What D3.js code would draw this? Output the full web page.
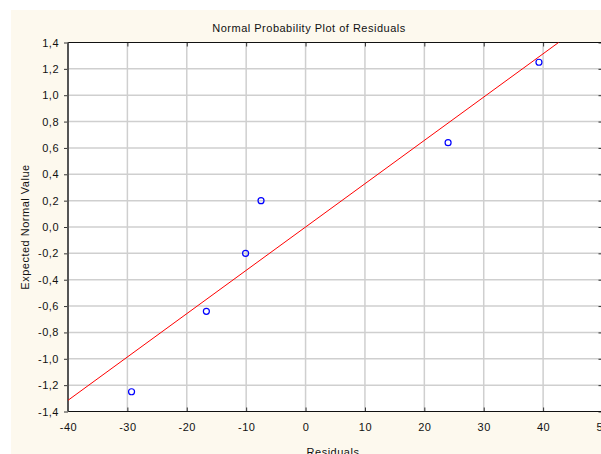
<!DOCTYPE html>
<html>
<head>
<meta charset="utf-8">
<script src="https://cdn.jsdelivr.net/npm/d3@7"></script>
<style>
  body { margin: 0; background: #fff; }
  text { font-family: "Liberation Sans", Arial, sans-serif; fill: #111; letter-spacing: 0.5px; }
</style>
</head>
<body>
<div id="chart"></div>
<script>
// residuals vs expected normal values
const residuals = [-29.3, -16.7, -10.1, -7.5, 24.0, 39.3];
const expected = [-1.25, -0.64, -0.20, 0.20, 0.64, 1.25];
// fitted line end points (clipped at the plot edge)
const lineX = [-40, 42.6];
const lineY = [-1.315, 1.4];
const xTicks = [-40, -30, -20, -10, 0, 10, 20, 30, 40, 50];
const yTicks = [-1.4, -1.2, -1.0, -0.8, -0.6, -0.4, -0.2, 0.0, 0.2, 0.4, 0.6, 0.8, 1.0, 1.2, 1.4];

let w = 601, h = 454;
let pLeft = 68, pRight = 602.5, pTop = 42.5, pBottom = 411.5;

// comma decimals and plain hyphen minus, like the original
let locale = d3.formatLocale({decimal: ",", thousands: ".", grouping: [3], currency: ["", ""], minus: "-"});
let fmtY = locale.format(".1f");
let fmtX = locale.format("d");

let svg = d3.select("#chart")
    .append("svg")
    .attr("width", w)
    .attr("height", h);

svg.append("rect")
    .attr("x", 11).attr("y", 10)
    .attr("width", w).attr("height", h)
    .attr("fill", "#fdf9ee");

let x = d3.scaleLinear().domain([-40, 50]).range([pLeft, pRight]);
let y = d3.scaleLinear().domain([-1.4, 1.4]).range([pBottom, pTop]);

svg.append("rect")
    .attr("x", pLeft).attr("y", pTop)
    .attr("width", pRight - pLeft).attr("height", pBottom - pTop)
    .attr("fill", "#fff");

// grid
svg.append("g")
    .selectAll("line")
    .data(xTicks.slice(1, -1))
    .enter()
    .append("line")
    .attr("x1", d => x(d)).attr("x2", d => x(d))
    .attr("y1", pTop).attr("y2", pBottom)
    .attr("stroke", "#cfcfcf").attr("stroke-width", 1.5);

svg.append("g")
    .selectAll("line")
    .data(yTicks.slice(1, -1))
    .enter()
    .append("line")
    .attr("x1", pLeft).attr("x2", pRight)
    .attr("y1", d => y(d)).attr("y2", d => y(d))
    .attr("stroke", "#cfcfcf").attr("stroke-width", 1.5);

// axes
let xAxis = d3.axisBottom(x).tickValues(xTicks).tickSize(-4).tickPadding(12).tickFormat(fmtX);
let gx = svg.append("g")
    .attr("transform", "translate(0," + pBottom + ")")
    .call(xAxis);
gx.select(".domain").remove();
gx.selectAll("text").style("font-size", "11px").attr("fill", "#111");
gx.selectAll("line").attr("stroke", "#333");

let gxTop = svg.append("g")
    .attr("transform", "translate(0," + pTop + ")")
    .call(d3.axisTop(x).tickValues(xTicks).tickSize(-4).tickFormat(""));
gxTop.select(".domain").remove();
gxTop.selectAll("line").attr("stroke", "#333");

let yAxis = d3.axisLeft(y).tickValues(yTicks).tickSize(4).tickPadding(5).tickFormat(fmtY);
let gy = svg.append("g")
    .attr("transform", "translate(" + pLeft + ",0)")
    .call(yAxis);
gy.select(".domain").remove();
gy.selectAll("text").style("font-size", "11px").attr("fill", "#111");
gy.selectAll("line").attr("stroke", "#333");

let gyRight = svg.append("g")
    .attr("transform", "translate(" + pRight + ",0)")
    .call(d3.axisRight(y).tickValues(yTicks).tickSize(-4).tickFormat(""));
gyRight.select(".domain").remove();
gyRight.selectAll("line").attr("stroke", "#333");

// frame
svg.append("line").attr("x1", pLeft).attr("x2", pRight).attr("y1", pTop).attr("y2", pTop)
    .attr("stroke", "#111").attr("stroke-width", 1.2);
svg.append("line").attr("x1", pLeft).attr("x2", pRight).attr("y1", pBottom).attr("y2", pBottom)
    .attr("stroke", "#111").attr("stroke-width", 1.2);
svg.append("line").attr("x1", pLeft).attr("x2", pLeft).attr("y1", pTop).attr("y2", pBottom)
    .attr("stroke", "#555").attr("stroke-width", 2);

// fitted line
svg.append("line")
    .attr("x1", x(lineX[0])).attr("y1", y(lineY[0]))
    .attr("x2", x(lineX[1])).attr("y2", y(lineY[1]))
    .attr("stroke", "#ff0000").attr("stroke-width", 1);

// points
svg.selectAll("circle.pt")
    .data(residuals)
    .enter()
    .append("circle")
    .attr("class", "pt")
    .attr("cx", d => x(d))
    .attr("cy", (d, i) => y(expected[i]))
    .attr("r", 3)
    .attr("fill", "none")
    .attr("stroke", "#0000ff")
    .attr("stroke-width", 1.2);

// labels
svg.append("text")
    .attr("x", 309).attr("y", 32)
    .attr("text-anchor", "middle")
    .style("font-size", "11px")
    .text("Normal Probability Plot of Residuals");

svg.append("text")
    .attr("x", 333).attr("y", 456)
    .attr("text-anchor", "middle")
    .style("font-size", "11px")
    .text("Residuals");

svg.append("text")
    .attr("transform", "translate(29," + y(0) + ") rotate(-90)")
    .attr("text-anchor", "middle")
    .style("font-size", "11px")
    .text("Expected Normal Value");
</script>
</body>
</html>
